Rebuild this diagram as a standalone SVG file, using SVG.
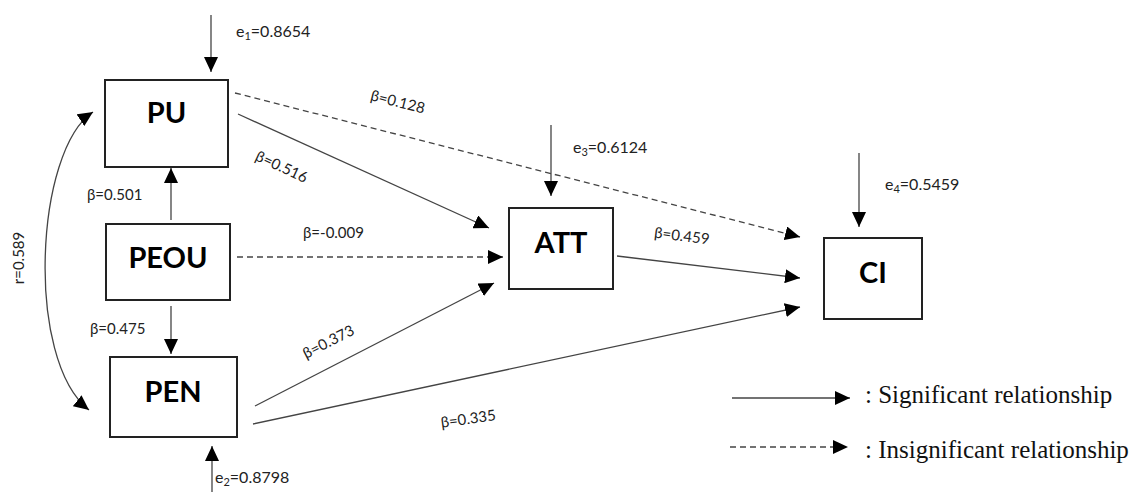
<svg xmlns="http://www.w3.org/2000/svg" width="1144" height="492" viewBox="0 0 1144 492">
<defs>
<marker id="ah" markerUnits="userSpaceOnUse" markerWidth="16" markerHeight="14" refX="15" refY="7" orient="auto-start-reverse">
<path d="M0,0 L15,7 L0,14 z" fill="#000"/>
</marker>
<style>
.box{fill:#fff;stroke:#222;stroke-width:2}
.nl{font-family:Lato,"Liberation Sans",sans-serif;font-weight:bold;font-size:29px;fill:#000;text-anchor:middle}
.ln{fill:none;stroke:#444;stroke-width:1.3}
.ds{stroke-dasharray:6,4}
.lb{font-family:Lato,"Open Sans","DejaVu Sans",sans-serif;font-size:15px;fill:#222}
.eb{font-family:Lato,"Open Sans","DejaVu Sans",sans-serif;font-size:16px;fill:#222}
.lg{font-family:"Liberation Serif",serif;font-size:25px;fill:#111}
</style>
</defs>
<rect width="1144" height="492" fill="#fff"/>
<g id="connectors">
<line class="ln" x1="211" y1="15" x2="211" y2="72" marker-end="url(#ah)"/>
<line class="ln" x1="212" y1="492" x2="212" y2="446" marker-end="url(#ah)"/>
<line class="ln" x1="551" y1="125" x2="551" y2="196" marker-end="url(#ah)"/>
<line class="ln" x1="859" y1="153" x2="859" y2="227" marker-end="url(#ah)"/>
<line class="ln" x1="171" y1="220" x2="171" y2="168" marker-end="url(#ah)"/>
<line class="ln" x1="171" y1="306" x2="171" y2="354" marker-end="url(#ah)"/>
<path class="ln" d="M93,112 C35,150 25,360 89,410" marker-start="url(#ah)" marker-end="url(#ah)"/>
<line class="ln ds" x1="235" y1="93" x2="800" y2="237" marker-end="url(#ah)"/>
<line class="ln" x1="238" y1="114" x2="489" y2="228" marker-end="url(#ah)"/>
<line class="ln ds" x1="237" y1="257" x2="503" y2="257" marker-end="url(#ah)"/>
<line class="ln" x1="255" y1="406" x2="494" y2="283" marker-end="url(#ah)"/>
<line class="ln" x1="253" y1="424" x2="800" y2="307" marker-end="url(#ah)"/>
<line class="ln" x1="617" y1="256" x2="800" y2="278" marker-end="url(#ah)"/>
</g>
<g id="labels">
<text class="eb" x="236" y="37">e<tspan font-size="11" dy="3">1</tspan><tspan dy="-3">=0.8654</tspan></text>
<text class="eb" x="215" y="483">e<tspan font-size="11" dy="3">2</tspan><tspan dy="-3">=0.8798</tspan></text>
<text class="eb" x="573" y="153">e<tspan font-size="11" dy="3">3</tspan><tspan dy="-3">=0.6124</tspan></text>
<text class="eb" x="885" y="190">e<tspan font-size="11" dy="3">4</tspan><tspan dy="-3">=0.5459</tspan></text>
<text class="lb" x="0" y="0" text-anchor="middle" dominant-baseline="central" transform="translate(398,101) rotate(14)">β=0.128</text>
<text class="lb" x="0" y="0" text-anchor="middle" dominant-baseline="central" transform="translate(282,166) rotate(25)">β=0.516</text>
<text class="lb" x="87" y="200">β=0.501</text>
<text class="lb" x="303" y="238">β=-0.009</text>
<text class="lb" x="90" y="334">β=0.475</text>
<text class="lb" x="0" y="0" text-anchor="middle" dominant-baseline="central" transform="translate(328,341) rotate(-27)">β=0.373</text>
<text class="lb" x="0" y="0" text-anchor="middle" dominant-baseline="central" transform="translate(468,418) rotate(-8)">β=0.335</text>
<text class="lb" x="0" y="0" text-anchor="middle" dominant-baseline="central" transform="translate(682,235) rotate(7)">β=0.459</text>
<text class="lb" x="0" y="0" text-anchor="middle" dominant-baseline="central" transform="translate(18,258) rotate(-90)">r=0.589</text>
</g>
<g id="PU"><rect class="box" x="105" y="80" width="123" height="87"/><text class="nl" x="166.5" y="123">PU</text></g>
<g id="PEOU"><rect class="box" x="106" y="224" width="124" height="76"/><text class="nl" x="168" y="268">PEOU</text></g>
<g id="PEN"><rect class="box" x="110" y="357" width="127" height="80"/><text class="nl" x="173" y="402">PEN</text></g>
<g id="ATT"><rect class="box" x="509" y="208" width="104" height="81"/><text class="nl" x="561" y="253">ATT</text></g>
<g id="CI"><rect class="box" x="824" y="238" width="98" height="81"/><text class="nl" x="873" y="283">CI</text></g>
<g id="legend">
<line class="ln" x1="732" y1="398" x2="850" y2="398" marker-end="url(#ah)"/>
<text class="lg" x="865" y="403">: Significant relationship</text>
<line class="ln ds" x1="730" y1="447" x2="848" y2="447" marker-end="url(#ah)"/>
<text class="lg" x="865" y="458">: Insignificant relationship</text>
</g>
</svg>
